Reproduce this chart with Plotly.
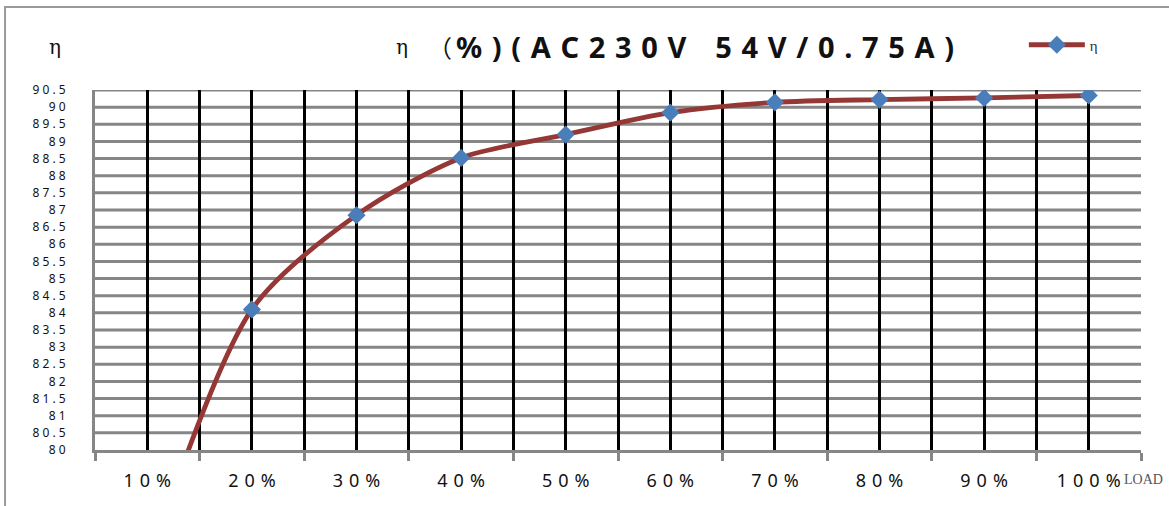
import plotly.graph_objects as go

categories = ["10%", "20%", "30%", "40%", "50%", "60%", "70%", "80%", "90%", "100%"]
tick_labels_x = ["1 0 %", "2 0 %", "3 0 %", "4 0 %", "5 0 %", "6 0 %", "7 0 %", "8 0 %", "9 0 %", "1 0 0 %"]
efficiency = [76.6, 84.1, 86.85, 88.52, 89.2, 89.84, 90.14, 90.22, 90.27, 90.34]
y_ticks = [80 + 0.5 * i for i in range(22)]
y_tick_labels = ["8 0", "8 0 . 5", "8 1", "8 1 . 5", "8 2", "8 2 . 5", "8 3", "8 3 . 5", "8 4", "8 4 . 5",
                 "8 5", "8 5 . 5", "8 6", "8 6 . 5", "8 7", "8 7 . 5", "8 8", "8 8 . 5", "8 9", "8 9 . 5",
                 "9 0", "9 0 . 5"]

xpos = list(range(1, len(categories) + 1))
n = len(categories)
sp = "\u2004"
x_ticktext = [t.replace(" ", sp) for t in tick_labels_x]

fig = go.Figure()
fig.add_trace(go.Scatter(
    x=xpos, y=efficiency, name="η", mode="lines+markers",
    line=dict(color="#953735", width=4.8, shape="spline", smoothing=0.8),
    marker=dict(symbol="diamond", size=14, color="#4A7EBB", line=dict(width=0)),
    cliponaxis=True,
    hovertext=categories,
))

# gray horizontal grid lines drawn below the black vertical grid
shapes = []
for yv in y_ticks[1:]:
    shapes.append(dict(type="line", xref="paper", yref="y", x0=0, x1=1, y0=yv, y1=yv,
                       line=dict(color="#868686", width=3), layer="below"))
shapes.append(dict(type="rect", xref="paper", yref="paper",
                   x0=-0.086, x1=1.2, y0=-0.4, y1=1.2306,
                   line=dict(color="#9a9a9a", width=2), fillcolor="rgba(0,0,0,0)", layer="below"))

title_bold = sp.join(list("%)(AC230V")) + sp * 3 + sp.join(list("54V/0.75A)"))

fig.update_layout(
    width=1169, height=506,
    margin=dict(l=95, r=28, t=90, b=56, autoexpand=False),
    paper_bgcolor="white", plot_bgcolor="rgba(0,0,0,0)",
    showlegend=True,
    legend=dict(x=0.888, y=1.125, xanchor="left", yanchor="middle",
                font=dict(family="Liberation Serif", size=15, color="#333"),
                bgcolor="rgba(0,0,0,0)", itemwidth=56, tracegroupgap=0),
    xaxis=dict(
        range=[0.5, 10.5], tickmode="array", tickvals=xpos, ticktext=x_ticktext,
        showgrid=True, gridcolor="black", gridwidth=3,
        ticks="outside", ticklen=12, tickcolor="rgba(0,0,0,0)",
        tickfont=dict(family="Noto Sans", size=18, color="#111"),
        showline=True, linecolor="#868686", linewidth=3,
        minor=dict(tickmode="array", tickvals=[0.5 + i for i in range(n + 1)],
                   showgrid=True, gridcolor="black", gridwidth=3,
                   ticks="outside", ticklen=8, tickcolor="#868686", tickwidth=3),
        zeroline=False, fixedrange=True, automargin=False,
    ),
    yaxis=dict(
        range=[80, 90.5], tickmode="array", tickvals=y_ticks, ticktext=y_tick_labels,
        showgrid=False,
        ticks="outside", ticklen=24, tickcolor="rgba(0,0,0,0)",
        tickfont=dict(family="Noto Sans", size=12, color="#111"),
        showline=True, linecolor="#868686", linewidth=3,
        zeroline=False, automargin=False, fixedrange=True,
    ),
    shapes=shapes,
    annotations=[
        dict(text="η", xref="paper", yref="paper", x=(55 - 95) / 1046, y=(450 - 47) / 360,
             showarrow=False, font=dict(family="DejaVu Serif", size=20, color="#111"),
             xanchor="center", yanchor="middle"),
        dict(text="η", xref="paper", yref="paper", x=(402 - 95) / 1046, y=(450 - 47) / 360,
             showarrow=False, font=dict(family="DejaVu Serif", size=20, color="#111"),
             xanchor="center", yanchor="middle"),
        dict(text="（", xref="paper", yref="paper", x=(440 - 95) / 1046, y=(450 - 47) / 360,
             showarrow=False, font=dict(family="Noto Sans CJK SC", size=24, color="#111"),
             xanchor="center", yanchor="middle"),
        dict(text="<b>" + title_bold + "</b>", xref="paper", yref="paper",
             x=(454 - 95) / 1046, y=(450 - 47) / 360,
             showarrow=False, font=dict(family="Noto Sans", size=29, color="#111"),
             xanchor="left", yanchor="middle"),
        dict(text="LOAD", xref="paper", yref="paper", x=(1122 - 95) / 1046, y=(450 - 479) / 360,
             showarrow=False, font=dict(family="Liberation Serif", size=14, color="#555"),
             xanchor="left", yanchor="middle"),
    ],
)

fig.write_html("out.html", post_script="document.body.style.margin='0';",
               config={"displayModeBar": False})
